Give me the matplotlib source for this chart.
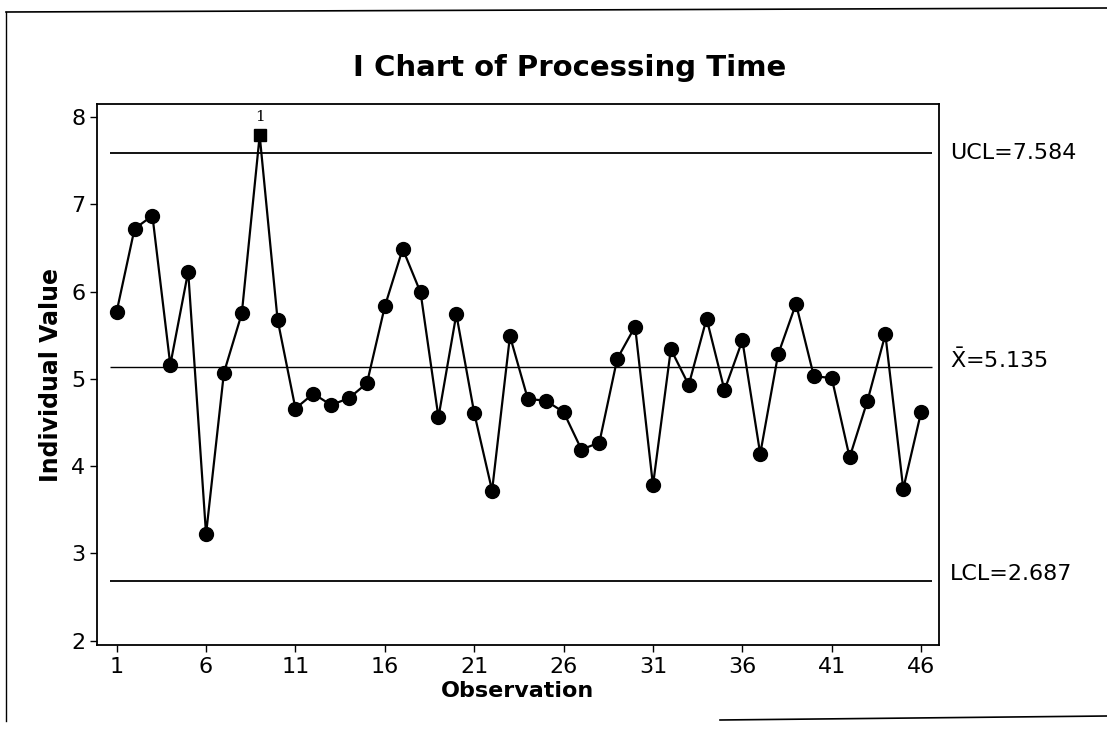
import matplotlib
matplotlib.use("Agg")
import matplotlib.pyplot as plt
from matplotlib.lines import Line2D
import numpy as np

# processing time, one value per observation
values = [5.77, 6.72, 6.87, 5.16, 6.23, 3.22, 5.07, 5.75, 7.79, 5.68,
          4.66, 4.83, 4.70, 4.78, 4.95, 5.83, 6.49, 5.99, 4.56, 5.74,
          4.61, 3.72, 5.49, 4.77, 4.75, 4.62, 4.19, 4.27, 5.23, 5.60,
          3.78, 5.34, 4.93, 5.69, 4.87, 5.44, 4.14, 5.28, 5.86, 5.03,
          5.01, 4.10, 4.75, 5.51, 3.74, 4.62]
ucl = 7.584
center = 5.135
lcl = 2.687
x_ticks = [1, 6, 11, 16, 21, 26, 31, 36, 41, 46]
y_ticks = [2, 3, 4, 5, 6, 7, 8]

obs = np.arange(1, len(values) + 1)
vals = np.array(values)
out = vals > ucl

plt.rcParams['font.family'] = ['DejaVu Sans']

fig = plt.figure(figsize=(11.07, 7.36), dpi=100)
ax = fig.add_axes([97 / 1107, 1 - 645 / 736, (939 - 97) / 1107, (645 - 104) / 736])

# control limits
for lvl in (ucl, center, lcl):
    lw = 1.0 if lvl == center else 1.3
    ax.hlines(lvl, 0.6, 46.6, color='black', linewidth=lw)

ax.plot(obs, vals, color='black', linewidth=1.6, zorder=2)
ax.plot(obs[~out], vals[~out], 'o', color='black', markersize=10, zorder=3)
ax.plot(obs[out], vals[out], 's', color='black', markersize=9, zorder=3)
for xo, yo in zip(obs[out], vals[out]):
    ax.annotate('1', (xo, yo), xytext=(0, 8), textcoords='offset points',
                ha='center', va='bottom', fontsize=11, family='DejaVu Serif')

ax.set_xlim(-0.1, 47)
ax.set_ylim(1.95, 8.15)
ax.set_xticks(x_ticks)
ax.set_yticks(y_ticks)
ax.tick_params(direction='out', length=5, width=1, labelsize=16)
for s in ax.spines.values():
    s.set_linewidth(1.3)

# labels at right side of the chart
ax.text(1.013, ucl, 'UCL=%.3f' % ucl, transform=ax.get_yaxis_transform(),
        va='center', ha='left', fontsize=16)
ax.text(1.013, center + 0.08, r'$\bar{\mathrm{X}}$=%.3f' % center, transform=ax.get_yaxis_transform(),
        va='center', ha='left', fontsize=16)
ax.text(1.013, lcl + 0.08, 'LCL=%.3f' % lcl, transform=ax.get_yaxis_transform(),
        va='center', ha='left', fontsize=16)

ax.set_xlabel('Observation', fontsize=16, fontweight='bold', labelpad=3)
ax.set_ylabel('Individual Value', fontsize=17, fontweight='bold', labelpad=6)
fig.text(0.515, 1 - 68 / 736, 'I Chart of Processing Time', ha='center', va='center',
         fontsize=21, fontweight='bold')

# outer graph border
fig.add_artist(Line2D([6 / 1107, 6 / 1107], [0.02, 1 - 12 / 736], color='black', linewidth=1))
fig.add_artist(Line2D([6 / 1107, 1.0], [1 - 12 / 736, 1 - 8 / 736], color='black', linewidth=1.2))
fig.add_artist(Line2D([720 / 1107, 1.0], [1 - 720 / 736, 1 - 716 / 736], color='black', linewidth=1.2))

fig.savefig('out.png', dpi=100)
